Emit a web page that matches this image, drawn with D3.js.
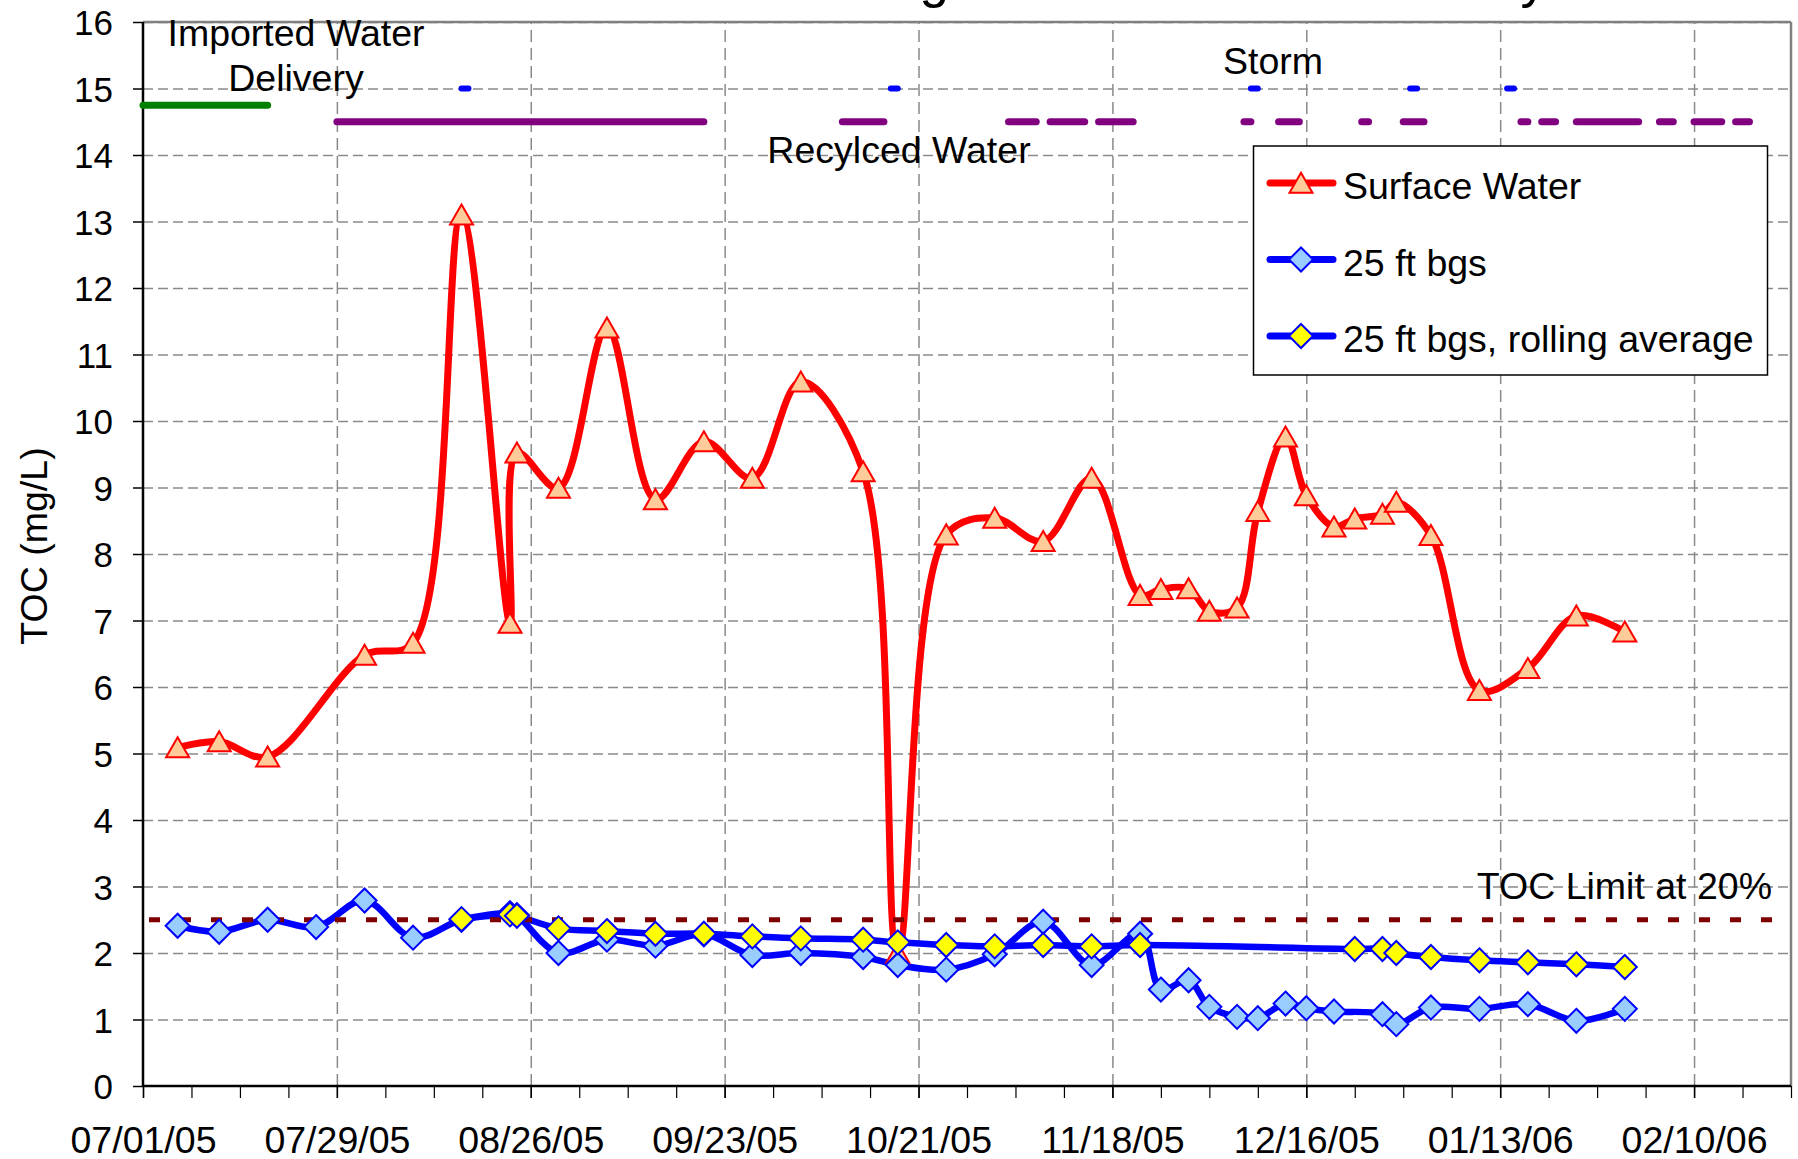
<!DOCTYPE html>
<html><head><meta charset="utf-8">
<script src="https://cdn.jsdelivr.net/npm/d3@7"></script>
<style>
body{margin:0;background:#fff}
svg{display:block}
text{font-family:"Liberation Sans",Arial,sans-serif;fill:#000}
</style>
</head><body>
<svg id="chart" width="1798" height="1159"></svg>
<script>
// ---------------- data ----------------
const titleText = "TOC Concentrations during the Demonstration Study";
const yAxisTitle = "TOC (mg/L)";
const xTickLabels = ["07/01/05","07/29/05","08/26/05","09/23/05","10/21/05","11/18/05","12/16/05","01/13/06","02/10/06"];
const yTickValues = [0,1,2,3,4,5,6,7,8,9,10,11,12,13,14,15,16];
const xDomain = ["2005-07-01","2006-02-24"];

const seriesNames = ["Surface Water","25 ft bgs","25 ft bgs, rolling average"];

const swDates = ["2005-07-06","2005-07-12","2005-07-19","2005-08-02","2005-08-09","2005-08-16","2005-08-23","2005-08-24","2005-08-30","2005-09-06","2005-09-13","2005-09-20","2005-09-27","2005-10-04","2005-10-13","2005-10-18","2005-10-25","2005-11-01","2005-11-08","2005-11-15","2005-11-22","2005-11-25","2005-11-29","2005-12-02","2005-12-06","2005-12-09","2005-12-13","2005-12-16","2005-12-20","2005-12-23","2005-12-27","2005-12-29","2006-01-03","2006-01-10","2006-01-17","2006-01-24","2006-01-31"];
const swValues = [5.09,5.18,4.95,6.48,6.66,13.1,6.96,9.52,8.99,11.4,8.82,9.69,9.14,10.59,9.24,2.0,8.29,8.54,8.19,9.14,7.38,7.47,7.48,7.14,7.19,8.64,9.76,8.88,8.41,8.53,8.6,8.78,8.28,5.95,6.28,7.07,6.83];

const gwDates = ["2005-07-06","2005-07-12","2005-07-19","2005-07-26","2005-08-02","2005-08-09","2005-08-16","2005-08-23","2005-08-24","2005-08-30","2005-09-06","2005-09-13","2005-09-20","2005-09-27","2005-10-04","2005-10-13","2005-10-18","2005-10-25","2005-11-01","2005-11-08","2005-11-15","2005-11-22","2005-11-25","2005-11-29","2005-12-02","2005-12-06","2005-12-09","2005-12-13","2005-12-16","2005-12-20","2005-12-27","2005-12-29","2006-01-03","2006-01-10","2006-01-17","2006-01-24","2006-01-31"];
const gwValues = [2.41,2.32,2.5,2.39,2.79,2.23,2.5,2.6,2.57,2.0,2.2,2.11,2.28,1.97,2.0,1.94,1.82,1.75,1.98,2.47,1.82,2.29,1.45,1.59,1.19,1.04,1.02,1.24,1.17,1.12,1.08,0.93,1.18,1.16,1.23,0.98,1.16];

const raDates = ["2005-08-16","2005-08-23","2005-08-24","2005-08-30","2005-09-06","2005-09-13","2005-09-20","2005-09-27","2005-10-04","2005-10-13","2005-10-18","2005-10-25","2005-11-01","2005-11-08","2005-11-15","2005-11-22","2005-12-23","2005-12-27","2005-12-29","2006-01-03","2006-01-10","2006-01-17","2006-01-24","2006-01-31"];
const raValues = [2.51,2.58,2.56,2.37,2.33,2.29,2.29,2.25,2.22,2.2,2.16,2.12,2.1,2.12,2.1,2.12,2.06,2.06,2.0,1.94,1.89,1.86,1.83,1.79];

const tocLimitValue = 2.5;
const tocLimitLabel = "TOC Limit at 20%";

const importedLevel = 14.75;
const importedPeriods = [["2005-07-01","2005-07-19"]];
const importedLabel = ["Imported Water","Delivery"];

const recycledLevel = 14.5;
const recycledPeriods = [["2005-07-29","2005-09-20"],["2005-10-10","2005-10-16"],["2005-11-03","2005-11-07"],["2005-11-09","2005-11-14"],["2005-11-16","2005-11-21"],["2005-12-07","2005-12-08"],["2005-12-12","2005-12-15"],["2005-12-24","2005-12-25"],["2005-12-30","2006-01-02"],["2006-01-16","2006-01-17"],["2006-01-19","2006-01-21"],["2006-01-24","2006-02-02"],["2006-02-05","2006-02-07"],["2006-02-10","2006-02-14"],["2006-02-16","2006-02-18"]];
const recycledLabel = "Recylced Water";

const stormLevel = 15;
const stormPeriods = [["2005-08-16","2005-08-17"],["2005-10-17","2005-10-18"],["2005-12-08","2005-12-09"],["2005-12-31","2006-01-01"],["2006-01-14","2006-01-15"]];
const stormLabel = "Storm";

// ---------------- setup ----------------
const parse = d3.utcParse("%Y-%m-%d");
const parseTick = d3.utcParse("%m/%d/%y");
const svg = d3.select("#chart");
const L = 143, R = 1791, T = 22, B = 1086;
const x = d3.scaleUtc().domain(xDomain.map(parse)).range([L, R]);
const y = d3.scaleLinear().domain([0, 16]).range([B, T]);

const majorTicks = xTickLabels.map(parseTick);
const minorTicks = d3.utcDay.range(x.domain()[0], d3.utcDay.offset(x.domain()[1], 1), 7);

// title (clipped by the top of the picture, as in the source)
svg.append("text").attr("x", 926).attr("y", -3).attr("text-anchor", "middle")
  .style("font-size", "53px").text(titleText);

// gridlines
const gx = svg.append("g").attr("transform", `translate(0,${B})`)
  .call(d3.axisBottom(x).tickValues(majorTicks).tickSize(-(B - T)).tickFormat(""));
gx.select(".domain").remove();
gx.selectAll(".tick line").attr("stroke", "#8a8a8a").attr("stroke-width", 1.5).attr("stroke-dasharray", "12,6");
gx.selectAll(".tick").filter(d => +d === +x.domain()[0]).remove();

const gy = svg.append("g").attr("transform", `translate(${L},0)`)
  .call(d3.axisLeft(y).tickValues(yTickValues.filter(v => v > 0)).tickSize(-(R - L)).tickFormat(""));
gy.select(".domain").remove();
gy.selectAll(".tick line").attr("stroke", "#8a8a8a").attr("stroke-width", 1.5).attr("stroke-dasharray", "10,5");

// plot border (top/right grey)
svg.append("line").attr("x1", L).attr("x2", R).attr("y1", T).attr("y2", T).attr("stroke", "#808080").attr("stroke-width", 2.5);
svg.append("line").attr("x1", R).attr("x2", R).attr("y1", T).attr("y2", B).attr("stroke", "#808080").attr("stroke-width", 2.5);

// axes
const ax = svg.append("g").attr("transform", `translate(0,${B})`)
  .call(d3.axisBottom(x).tickValues(majorTicks).tickSize(12).tickPadding(30).tickFormat((d, i) => xTickLabels[i]));
ax.select(".domain").remove();
ax.selectAll(".tick line").attr("stroke", "#000").attr("stroke-width", 1.5);
ax.selectAll(".tick text").style("font-size", "37.5px").attr("fill", "#000").attr("dy", null).attr("y", 67);
const axm = svg.append("g").attr("transform", `translate(0,${B})`)
  .call(d3.axisBottom(x).tickValues(minorTicks).tickSize(12).tickFormat(""));
axm.select(".domain").remove();
axm.selectAll(".tick line").attr("stroke", "#000").attr("stroke-width", 1.2);

const ay = svg.append("g").attr("transform", `translate(${L},0)`)
  .call(d3.axisLeft(y).tickValues(yTickValues).tickSize(10).tickPadding(20));
ay.select(".domain").remove();
ay.selectAll(".tick line").attr("stroke", "#000").attr("stroke-width", 1.5);
ay.selectAll(".tick text").style("font-size", "35px").attr("fill", "#000").attr("dy", "0.36em");

svg.append("line").attr("x1", L).attr("x2", R).attr("y1", B).attr("y2", B).attr("stroke", "#000").attr("stroke-width", 2.5);
svg.append("line").attr("x1", L).attr("x2", L).attr("y1", T).attr("y2", B).attr("stroke", "#000").attr("stroke-width", 2.5);

svg.append("text").attr("transform", `translate(47,546) rotate(-90)`).attr("text-anchor", "middle")
  .style("font-size", "37.5px").text(yAxisTitle);

// ---------------- series lines ----------------
const toPts = (dates, vals) => dates.map((d, i) => ({ d: parse(d), v: vals[i] }));
const sw = toPts(swDates, swValues);
const gw = toPts(gwDates, gwValues);
const ra = toPts(raDates, raValues);

const line = d3.line().x(p => x(p.d)).y(p => y(p.v)).curve(d3.curveCatmullRom.alpha(0.5));
const drawLine = (pts, color, w) => svg.append("path").datum(pts).attr("d", line)
  .attr("fill", "none").attr("stroke", color).attr("stroke-width", w)
  .attr("stroke-linejoin", "round").attr("stroke-linecap", "round");
drawLine(sw, "#ff0000", 7);
drawLine(gw, "#0000ff", 6.5);
drawLine(ra, "#0000ff", 6.5);

// TOC limit
svg.append("line").attr("x1", x.range()[0] + 6).attr("x2", x.range()[1]).attr("y1", y(tocLimitValue)).attr("y2", y(tocLimitValue))
  .attr("stroke", "#800000").attr("stroke-width", 5).attr("stroke-dasharray", "11,20");

// delivery bars
const bars = (periods, level, color, w) => svg.append("g").selectAll("line").data(periods).join("line")
  .attr("x1", p => x(parse(p[0]))).attr("x2", p => x(parse(p[1])))
  .attr("y1", y(level)).attr("y2", y(level))
  .attr("stroke", color).attr("stroke-width", w).attr("stroke-linecap", "round");
bars(importedPeriods, importedLevel, "#008000", 7);
bars(recycledPeriods, recycledLevel, "#800080", 7);
bars(stormPeriods, stormLevel, "#0000ff", 6);

// ---------------- markers ----------------
const tri = (cx, cy, s) => `M${cx},${cy - s * 0.45}L${cx + s / 2},${cy + s * 0.42}L${cx - s / 2},${cy + s * 0.42}Z`;
const dia = (cx, cy, s) => `M${cx},${cy - s}L${cx + s},${cy}L${cx},${cy + s}L${cx - s},${cy}Z`;

svg.append("g").selectAll("path").data(sw).join("path")
  .attr("d", p => tri(x(p.d), y(p.v), 23)).attr("fill", "#ffcc99").attr("stroke", "#ff0000").attr("stroke-width", 2);
svg.append("g").selectAll("path").data(gw).join("path")
  .attr("d", p => dia(x(p.d), y(p.v), 12)).attr("fill", "#99ccff").attr("stroke", "#0000ff").attr("stroke-width", 2);
svg.append("g").selectAll("path").data(ra).join("path")
  .attr("d", p => dia(x(p.d), y(p.v), 12)).attr("fill", "#ffff00").attr("stroke", "#0000ff").attr("stroke-width", 2);

// ---------------- annotations ----------------
const ann = svg.append("g").style("font-size", "37.5px");
ann.append("text").attr("x", 296).attr("y", 46).attr("text-anchor", "middle").text(importedLabel[0]);
ann.append("text").attr("x", 296).attr("y", 91).attr("text-anchor", "middle").text(importedLabel[1]);
ann.append("text").attr("x", 1273).attr("y", 74).attr("text-anchor", "middle").text(stormLabel);
ann.append("text").attr("x", 899).attr("y", 163).attr("text-anchor", "middle").text(recycledLabel);
ann.append("text").attr("x", 1772).attr("y", 899).attr("text-anchor", "end").text(tocLimitLabel);

// ---------------- legend ----------------
const lg = svg.append("g");
lg.append("rect").attr("x", 1253.5).attr("y", 146).attr("width", 514).attr("height", 229)
  .attr("fill", "#fff").attr("stroke", "#000").attr("stroke-width", 1.5);
const legendItems = [
  { name: seriesNames[0], color: "#ff0000", kind: "tri", fill: "#ffcc99" },
  { name: seriesNames[1], color: "#0000ff", kind: "dia", fill: "#99ccff" },
  { name: seriesNames[2], color: "#0000ff", kind: "dia", fill: "#ffff00" }
];
legendItems.forEach((it, i) => {
  const cy = 183 + i * 76.5;
  lg.append("line").attr("x1", 1270).attr("x2", 1333).attr("y1", cy).attr("y2", cy)
    .attr("stroke", it.color).attr("stroke-width", 7).attr("stroke-linecap", "round");
  lg.append("path").attr("d", it.kind === "tri" ? tri(1301, cy, 23) : dia(1301, cy, 12))
    .attr("fill", it.fill).attr("stroke", it.color).attr("stroke-width", 2);
  lg.append("text").attr("x", 1343).attr("y", cy + 16).style("font-size", "37.5px").text(it.name);
});
</script>
</body></html>
